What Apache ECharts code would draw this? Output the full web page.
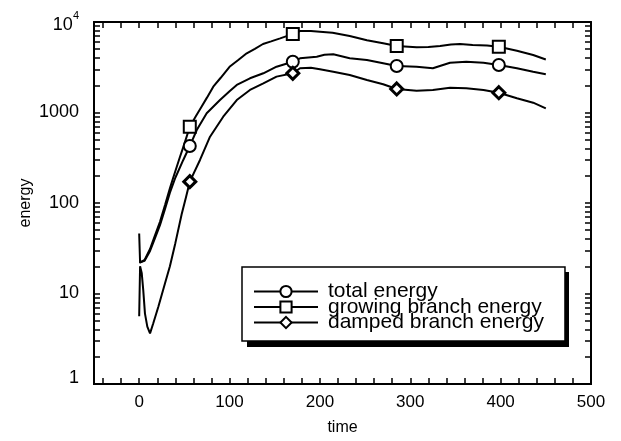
<!DOCTYPE html>
<html>
<head>
<meta charset="utf-8">
<script src="https://cdn.jsdelivr.net/npm/echarts@6/dist/echarts.min.js"></script>
<style>
  html, body { margin: 0; padding: 0; background: #fff; }
  #main { width: 621px; height: 441px; }
</style>
</head>
<body>
<div id="main"></div>
<script>
// valores (tiempo, energia)
var totalTime = [0, 6, 12, 17.5, 23, 28.6, 34, 40, 48.8, 56, 63.7, 74.7, 89.4, 100, 108, 122.6, 137.4, 152, 170, 178, 196.5, 205, 214.8, 233, 252, 270, 285, 307, 325, 344, 362, 381, 398, 418, 436, 450];
var totalEnergy = [22, 23, 29.5, 41, 57, 86, 130, 190, 299, 426, 641, 980, 1374, 1720, 2015, 2388, 2713, 3207, 3640, 3970, 4140, 4350, 4400, 3970, 3800, 3500, 3265, 3210, 3080, 3550, 3640, 3550, 3350, 3080, 2825, 2650];

var growingTime = [0, 1, 6, 12, 17.5, 23, 28.6, 34, 38, 45, 50, 56, 63, 69, 75, 82, 90, 100, 110, 119, 128, 137, 146, 156, 164, 170, 178, 190, 200, 214, 233, 252, 270, 285, 307, 320, 333, 345, 355, 369, 385, 398, 418, 436, 450];
var growingEnergy = [46, 22, 23.5, 31, 44, 62, 95, 145, 195, 320, 450, 697, 920, 1160, 1460, 1930, 2405, 3200, 3820, 4510, 5060, 5715, 6115, 6600, 7030, 7365, 7950, 7950, 7815, 7620, 7000, 6300, 5820, 5430, 5250, 5300, 5430, 5650, 5720, 5570, 5500, 5330, 4820, 4320, 3850];

var dampedTime = [0, 1, 2.8, 4.5, 6.4, 9, 12, 15.6, 21.2, 28.6, 34, 40, 47, 52, 56, 67.3, 78.4, 93, 108, 122.6, 137.4, 152, 170, 178, 190, 200, 214.8, 233, 252, 270, 285, 307, 325, 344, 362, 381, 398, 418, 436, 450];
var dampedEnergy = [5.6, 20, 16.9, 10.9, 6.0, 4.3, 3.63, 4.69, 7.15, 13, 20, 36, 75, 118, 172, 299, 540, 899, 1374, 1775, 2100, 2490, 2713, 3080, 3120, 3000, 2825, 2595, 2285, 2050, 1820, 1742, 1775, 1880, 1850, 1775, 1655, 1435, 1283, 1113];

// tiempos donde se dibujan los marcadores
var markerTimes = [56, 170, 285, 398];

// marcas de los ejes
var xLabelValues = [0, 100, 200, 300, 400, 500];
var xTickValues = [-40, -20, 0, 20, 40, 60, 80, 100, 120, 140, 160, 180, 200, 220, 240, 260, 280, 300, 320, 340, 360, 380, 400, 420, 440, 460, 480];
var yLabelValues = [1, 10, 100, 1000, 10000];
var yTickValues = yLabelValues.slice();
yLabelValues.slice(0, 4).forEach(function (d) {
  for (var k = 2; k <= 9; k++) yTickValues.push(d * k);
});

var font = '"Liberation Sans", Arial, Helvetica, sans-serif';

function buildData(times, values, symbol) {
  return times.map(function (t, i) {
    return { value: [t, values[i]], symbol: markerTimes.indexOf(t) >= 0 ? symbol : 'none' };
  });
}

// eje del marco (linea negra)
function frameAxis(type, pos) {
  var ax = {
    type: type, position: pos, gridIndex: 0,
    axisLine: { show: true, onZero: false, lineStyle: { color: '#000', width: 2 } },
    axisTick: { show: false },
    axisLabel: { show: false },
    splitLine: { show: false }
  };
  if (type === 'log') { ax.min = 1; ax.max = 10000; }
  else { ax.min = -50; ax.max = 500; }
  return ax;
}

// eje con marcas hacia dentro
function tickAxis(type, pos, ticks, len) {
  var ax = frameAxis(type, pos);
  ax.axisTick = { show: true, inside: true, length: len, customValues: ticks, lineStyle: { color: '#000', width: 1.5 } };
  return ax;
}

var xMain = frameAxis('value', 'bottom');
xMain.axisLabel = { show: true, customValues: xLabelValues, margin: 10, color: '#000', fontSize: 17, fontFamily: font };
xMain.name = 'time';
xMain.nameLocation = 'middle';
xMain.nameGap = 36;
xMain.nameMoveOverlap = false;
xMain.nameTextStyle = { color: '#000', fontSize: 16, fontFamily: font };

var yMain = frameAxis('log', 'left');
yMain.axisLabel = {
  show: true, customValues: yLabelValues, margin: 15, color: '#000', fontSize: 18, fontFamily: font,
  formatter: function (v) {
    if (v >= 9999) return '{b|10}{s|4}';
    if (v <= 1.0001) return '{lo|1}';
    return String(Math.round(v));
  },
  rich: {
    b: { fontSize: 18, fontFamily: font, color: '#000', padding: [6, 0, 0, 0] },
    s: { fontSize: 11, fontFamily: font, color: '#000', verticalAlign: 'top' },
    lo: { fontSize: 18, fontFamily: font, color: '#000', padding: [0, 0, 12, 0] }
  }
};
yMain.name = 'energy';
yMain.nameLocation = 'middle';
yMain.nameGap = 60;
yMain.nameMoveOverlap = false;
yMain.nameTextStyle = { color: '#000', fontSize: 16, fontFamily: font };

var chart = echarts.init(document.getElementById('main'));

var option = {
  animation: false,
  backgroundColor: '#fff',
  grid: { left: 94, right: 30, top: 22, bottom: 57 },
  xAxis: [
    xMain,
    tickAxis('value', 'bottom', xTickValues, 6),
    tickAxis('value', 'top', xTickValues, 6)
  ],
  yAxis: [
    yMain,
    tickAxis('log', 'left', yTickValues, 6),
    tickAxis('log', 'right', yTickValues, 6)
  ],
  // sombra negra del cuadro de la leyenda
  graphic: [{
    type: 'rect', left: 247, top: 272, z: 90,
    shape: { width: 322, height: 75 },
    style: { fill: '#000' }
  }],
  legend: {
    orient: 'vertical',
    left: 242,
    top: 267,
    z: 100,
    padding: [14, 21, 8, 11],
    itemGap: -5.5,
    itemWidth: 64,
    itemHeight: 14,
    selectedMode: false,
    backgroundColor: '#fff',
    borderColor: '#000',
    borderWidth: 1.5,
    borderRadius: 0,
    textStyle: { color: '#000', fontSize: 21, fontFamily: font, padding: [0, 0, 0, 5] },
    data: ['total energy', 'growing branch energy', 'damped branch energy']
  },
  series: [
    {
      name: 'total energy', type: 'line', xAxisIndex: 0, yAxisIndex: 0,
      data: buildData(totalTime, totalEnergy, 'circle'),
      symbol: 'circle', symbolSize: 12, showSymbol: true, showAllSymbol: true,
      lineStyle: { color: '#000', width: 2 },
      itemStyle: { color: '#fff', borderColor: '#000', borderWidth: 2 },
      z: 3
    },
    {
      name: 'growing branch energy', type: 'line', xAxisIndex: 0, yAxisIndex: 0,
      data: buildData(growingTime, growingEnergy, 'rect'),
      symbol: 'rect', symbolSize: 12, showSymbol: true, showAllSymbol: true,
      lineStyle: { color: '#000', width: 2 },
      itemStyle: { color: '#fff', borderColor: '#000', borderWidth: 2 },
      z: 3
    },
    {
      name: 'damped branch energy', type: 'line', xAxisIndex: 0, yAxisIndex: 0,
      data: buildData(dampedTime, dampedEnergy, 'diamond'),
      symbol: 'diamond', symbolSize: 12, showSymbol: true, showAllSymbol: true,
      lineStyle: { color: '#000', width: 2 },
      itemStyle: { color: '#fff', borderColor: '#000', borderWidth: 3 },
      z: 3
    }
  ]
};

chart.setOption(option);
</script>
</body>
</html>
